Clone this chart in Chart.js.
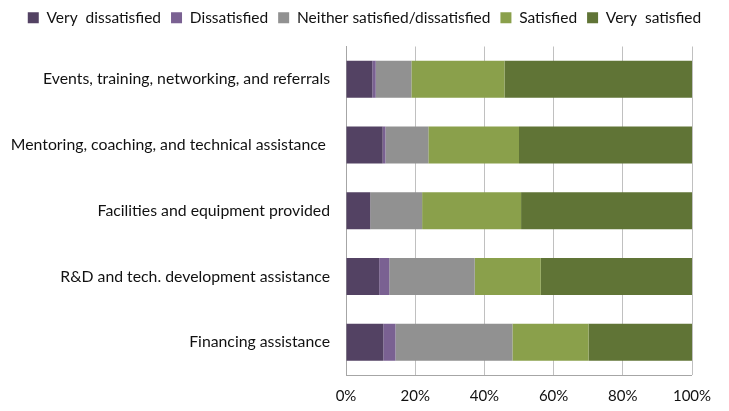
<!DOCTYPE html>
<html>
<head>
<meta charset="utf-8">
<script src="https://cdn.jsdelivr.net/npm/chart.js@4"></script>
<style>
  html, body { margin: 0; padding: 0; background: #ffffff; }
  #wrap { width: 729px; height: 411px; }
</style>
</head>
<body>
<div id="wrap"><canvas id="chart" width="729" height="411"></canvas></div>
<script>
// Survey services (top to bottom)
const categories = [
  'Events, training, networking, and referrals',
  'Mentoring, coaching, and technical assistance ',
  'Facilities and equipment provided',
  'R&D and tech. development assistance',
  'Financing assistance'
];

// Share of respondents per rating, in percent
const veryDissatisfied = [7.6, 10.6, 7.0, 9.6, 10.8];
const dissatisfied     = [1.0, 0.8, 0.0, 2.9, 3.5];
const neither          = [10.3, 12.4, 15.0, 24.7, 33.8];
const satisfied        = [26.9, 26.2, 28.6, 19.1, 22.0];
const verySatisfied    = [54.2, 50.0, 49.4, 43.7, 29.9];

const seriesNames = ['Very  dissatisfied', 'Dissatisfied', 'Neither satisfied/dissatisfied', 'Satisfied', 'Very  satisfied'];
const xTicks = [0, 20, 40, 60, 80, 100];

const colors = ['#534263', '#7a6192', '#919191', '#8aa04b', '#607436'];
const seriesValues = [veryDissatisfied, dissatisfied, neither, satisfied, verySatisfied];

const FONT = 'Lato, Calibri, Carlito, sans-serif';

// Extra room below the legend before the plot area
const legendGap = {
  id: 'legendGap',
  beforeInit(chart) {
    const fit = chart.legend.fit;
    chart.legend.fit = function () {
      fit.call(this);
      this.height += 11;
    };
  }
};

new Chart(document.getElementById('chart'), {
  type: 'bar',
  data: {
    labels: categories,
    datasets: seriesValues.map((vals, i) => ({
      label: seriesNames[i],
      data: vals,
      backgroundColor: colors[i],
      borderWidth: 0,
      categoryPercentage: 0.75,
      barPercentage: 0.75
    }))
  },
  options: {
    indexAxis: 'y',
    responsive: false,
    animation: false,
    devicePixelRatio: 1,
    layout: { padding: { top: 0, right: 0, bottom: 6, left: 0 } },
    plugins: {
      legend: {
        position: 'top',
        labels: {
          font: { family: FONT, size: 15.5 },
          color: '#111111',
          boxWidth: 11,
          boxHeight: 11,
          padding: 10
        }
      },
      tooltip: { enabled: false }
    },
    scales: {
      x: {
        stacked: true,
        min: 0,
        max: 100,
        afterBuildTicks(scale) {
          scale.ticks = xTicks.map(v => ({ value: v }));
        },
        afterFit(scale) { scale.height = 30; },
        ticks: {
          font: { family: FONT, size: 15 },
          color: '#111111',
          padding: 12,
          callback: v => v + '%'
        },
        grid: {
          color: '#c0c0c0',
          lineWidth: 1,
          drawTicks: false
        },
        border: { display: false }
      },
      y: {
        stacked: true,
        afterFit(scale) { scale.width = 346; },
        ticks: {
          font: { family: FONT, size: 15.8 },
          color: '#111111',
          padding: 16
        },
        grid: { display: false, drawTicks: false },
        border: { display: true, color: '#a6a6a6', width: 1 }
      },
      // empty right-hand axis that only reserves the margin after 100%
      spacer: {
        type: 'linear',
        position: 'right',
        axis: 'y',
        display: true,
        ticks: { display: false },
        grid: { display: false, drawTicks: false },
        border: { display: false },
        afterFit(scale) { scale.width = 37; }
      }
    }
  },
  plugins: [legendGap, {
    id: 'bottomLine',
    afterDraw(chart) {
      const { ctx, chartArea } = chart;
      ctx.save();
      ctx.strokeStyle = '#a6a6a6';
      ctx.lineWidth = 1;
      ctx.beginPath();
      const y = Math.round(chartArea.bottom) + 0.5;
      ctx.moveTo(chartArea.left, y);
      ctx.lineTo(chartArea.right, y);
      ctx.stroke();
      ctx.restore();
    }
  }]
});
</script>
</body>
</html>
